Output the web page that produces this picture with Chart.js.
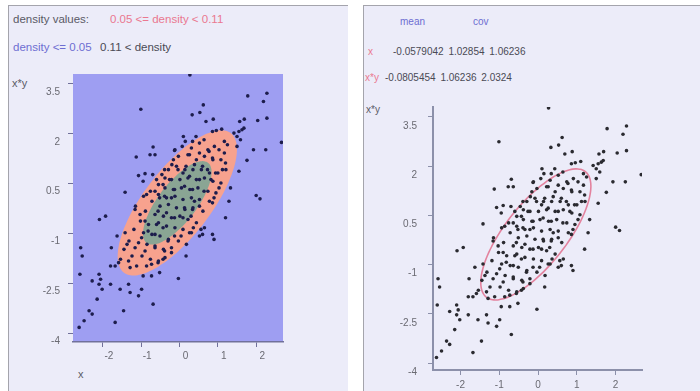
<!DOCTYPE html>
<html>
<head>
<meta charset="utf-8">
<script src="https://cdn.jsdelivr.net/npm/chart.js@4/dist/chart.umd.min.js"></script>
<style>
  body { margin: 0; width: 700px; height: 391px; overflow: hidden; background: #fff; position: relative;
         font-family: "Liberation Sans", Arial, sans-serif; }
  .panel { position: absolute; top: 5px; bottom: 0; background: #ececf9;
           border-top: 1px solid #a4a4ac; border-left: 1px solid #a4a4ac; }
  .txt { position: absolute; white-space: nowrap; line-height: 1; }
  canvas { position: absolute; }
</style>
</head>
<body>
<div class="panel" style="left:8px; width:339px;"></div>
<div class="panel" style="left:363px; width:337px;"></div>

<div class="txt" style="left:13px; top:14px; font-size:11.5px; color:#5a5a66;">density values:</div>
<div class="txt" id="midBand" style="left:110px; top:14px; font-size:11.5px; color:#ea7890;"></div>
<div class="txt" id="lowBand" style="left:13px; top:42px; font-size:11.5px; color:#6e6ed2;"></div>
<div class="txt" id="highBand" style="left:100px; top:42px; font-size:11.5px; color:#4a4a55;"></div>
<div class="txt" style="left:12px; top:78px; font-size:11px; color:#5a5a66;">x*y</div>
<div class="txt" style="left:78px; top:369px; font-size:11px; color:#5a5a66;">x</div>

<div class="txt" style="left:400px; top:17px; font-size:10px; color:#6e6ed2;">mean</div>
<div class="txt" style="left:473px; top:17px; font-size:10px; color:#6e6ed2;">cov</div>
<div class="txt" style="left:368px; top:47px; font-size:10px; color:#ea7890;">x</div>
<div class="txt" id="rowX" style="left:393px; top:47px; font-size:10px; color:#4a4a55; word-spacing:2px;"></div>
<div class="txt" style="left:365px; top:73px; font-size:10px; color:#ea7890;">x*y</div>
<div class="txt" id="rowXY" style="left:385px; top:73px; font-size:10px; color:#4a4a55; word-spacing:2px;"></div>
<div class="txt" style="left:366px; top:105px; font-size:10px; color:#5a5a66;">x*y</div>

<canvas id="density" width="339" height="331" style="left:8px; top:60px;"></canvas>
<canvas id="fit" width="337" height="301" style="left:363px; top:90px;"></canvas>

<script>
// sample statistics shown in the header
const means = [-0.0579042, -0.0805454];
const cov = [[1.02854, 1.06236], [1.06236, 2.0324]];

// density band limits
const densityLevels = [0.05, 0.11];

// mahalanobis radius of the fitted ellipse
const fitRadius = 1.4;

const xTicks = [-2, -1, 0, 1, 2];
const yTicks = [3.5, 2, 0.5, -1, -2.5, -4];

// (x, x*y) samples
const samples = [
  [0.27,3.77],[2.28,3.92],[1.78,3.14],[2.19,2.97],[2.28,3.22],[0.62,2.87],[0.53,2.64],[0.33,2.57],
  [0.88,2.44],[0.69,2.37],[2.04,2.40],[2.28,2.47],[1.57,2.37],[1.69,2.44],[2.66,1.74],[1.93,1.52],
  [2.25,1.52],[1.76,1.20],[2.00,0.14],[2.10,0.04],[1.55,0.87],[1.33,0.37],[0.10,1.92],[0.15,1.77],
  [0.07,1.62],[0.86,2.07],[0.96,2.10],[1.10,2.14],[1.42,2.02],[1.55,2.07],[1.63,2.12],[1.68,2.17],
  [1.50,1.92],[1.59,1.82],[1.50,1.62],[0.43,1.92],[0.34,1.77],[0.64,1.82],[0.77,1.47],[0.86,1.27],
  [1.03,1.52],[0.52,1.42],[0.26,1.37],[0.17,1.02],[0.39,1.07],[0.60,1.02],[0.73,0.92],[0.94,0.82],
  [1.12,0.92],[1.20,1.12],[0.82,0.62],[0.52,0.62],[0.26,0.72],[0.09,0.82],[0.34,0.32],[0.64,0.27],
  [1.03,0.37],[0.90,0.07],[0.13,0.42],[0.39,-0.03],[1.29,-0.03],[0.86,-0.08],
  [-1.01,2.74],[-0.69,1.60],[-1.13,1.30],[-0.77,1.37],[-0.64,1.37],[-0.13,1.50],[-0.20,1.07],
  [-0.39,0.92],[-1.07,0.74],[-0.90,0.80],[-0.70,0.77],[-0.95,0.57],[-1.42,0.24],[-0.60,0.62],
  [-0.43,0.47],[-0.86,0.17],[-0.64,0.27],[-0.39,0.12],[-0.21,0.07],[-0.13,0.32],[-0.52,0.07],
  [-0.26,0.62],[-0.04,0.92],
  [-1.16,-0.28],[-1.03,-0.43],[-2.09,-0.58],[-1.93,-0.48],[-1.63,-1.08],[-1.42,-0.98],[-1.37,-1.33],
  [-1.78,-1.43],[-2.58,-1.43],[-2.54,-1.68],[-1.59,-1.88],[-1.68,-1.98],[-1.80,-1.98],[-1.33,-1.83],
  [-1.29,-2.03],[-1.12,-1.98],[-0.86,-1.98],[-0.73,-1.93],[-0.56,-1.88],[-0.43,-1.78],[-0.95,-2.28],
  [-0.73,-2.28],[-0.52,-2.18],[-2.60,-2.23],[-2.10,-2.23],[-2.06,-2.38],[-2.10,-2.53],[-2.02,-2.68],
  [-2.28,-2.43],[-1.80,-2.53],[-1.55,-2.68],[-1.33,-2.53],[-1.29,-2.78],[-1.07,-2.88],[-0.69,-3.13],
  [-2.15,-2.98],[-2.36,-3.33],[-2.28,-3.43],[-2.49,-3.63],[-2.62,-3.83],[-1.46,-3.33],[-1.68,-3.68],
  [-0.99,-2.68],[-0.82,-0.93],[-0.64,-1.03],[-0.43,-0.83],[-0.30,-1.23],[-0.13,-1.08],[-0.21,-1.43],
  [-0.99,-1.13],[-1.16,-1.43],[-0.90,-1.53],[-0.64,-1.43],[-0.39,-1.53],[-0.60,-0.73],[-0.90,-0.63],
  [-0.34,-0.38],[-0.13,-0.53],[-0.56,-0.33],
  [0.13,-0.23],[0.34,-0.28],[0.52,-0.18],[0.30,-0.48],[0.09,-0.53],[1.20,-0.53],[0.36,-0.83],
  [0.56,-0.88],[0.04,-1.08],[0.60,-1.03],[0.86,-1.03],[0.90,-1.18],[0.17,-1.68],[0.26,-0.98],
  [-0.03,-2.36],
  [-0.12,1.52],[-0.03,1.32],[0.22,1.37],[0.44,1.22],[0.65,1.32],[0.87,1.22],[1.08,1.22],[1.17,1.42],
  [1.21,0.92],[1.00,0.82],[0.78,0.82],[0.57,0.92],[0.35,0.92],[0.14,0.92],[-0.08,1.02],[-0.29,0.92],
  [-0.46,0.77],[-0.21,0.62],[0.01,0.62],[0.22,0.67],[0.44,0.62],[0.65,0.67],[0.87,0.57],[1.08,0.52],
  [-0.38,0.37],[-0.16,0.32],[0.05,0.37],[0.27,0.32],[0.48,0.37],[0.74,0.27],[0.95,0.22],[-0.55,0.17],
  [-0.34,0.07],[-0.12,0.12],[0.09,0.02],[0.31,0.07],[0.52,0.02],[0.78,-0.03],[-0.72,-0.03],
  [-0.51,-0.18],[-0.29,-0.13],[-0.08,-0.23],[0.14,-0.28],[0.35,-0.23],[0.61,-0.33],[-0.89,-0.33],
  [-0.64,-0.43],[-0.42,-0.48],[-0.21,-0.53],[0.01,-0.48],[0.22,-0.58],[0.44,-0.68],[0.65,-0.83],
  [-1.02,-0.63],[-0.81,-0.73],[-0.55,-0.68],[-0.34,-0.78],[-0.12,-0.83],[0.09,-0.88],[0.31,-0.98],
  [0.52,-1.08],[-1.19,-0.88],[-0.94,-0.98],[-0.72,-1.03],[-0.51,-1.08],[-0.29,-1.18],[-0.03,-1.23],
  [0.18,-1.33],[-1.07,-1.28],[-0.85,-1.33],[-0.64,-1.38],[-0.42,-1.48],[-0.21,-1.58],[-1.32,-1.23],
  [-1.45,-1.48],[-1.24,-1.68],[-0.98,-1.68],[-0.76,-1.78],[-0.55,-1.83],[-0.38,-1.73],[-1.54,-1.78],
  [-1.15,-0.18],[-0.94,0.12],[-0.76,0.27],[-0.55,0.47],[-0.38,0.67],[-0.16,1.22],[0.31,1.57],
  [0.52,1.72],[0.74,1.52],[0.91,1.62],[1.17,1.77],[1.25,1.67]
];

// header text
document.getElementById("midBand").textContent = densityLevels[0] + " <= density < " + densityLevels[1];
document.getElementById("lowBand").textContent = "density <= " + densityLevels[0];
document.getElementById("highBand").textContent = densityLevels[1] + " < density";
document.getElementById("rowX").textContent = [means[0], cov[0][0], cov[0][1]].join(" ");
document.getElementById("rowXY").textContent = [means[1], cov[1][0], cov[1][1]].join(" ");

// contour of the normal density at a given mahalanobis radius
function ellipse(r) {
  const a = Math.sqrt(cov[0][0]);
  const b = cov[0][1] / a;
  const c = Math.sqrt(cov[1][1] - b * b);
  const pts = [];
  for (let i = 0; i <= 90; i++) {
    const t = (i / 90) * 2 * Math.PI;
    pts.push({ x: means[0] + r * a * Math.cos(t), y: means[1] + r * (b * Math.cos(t) + c * Math.sin(t)) });
  }
  return pts;
}

function radiusForDensity(level) {
  const det = cov[0][0] * cov[1][1] - cov[0][1] * cov[1][0];
  return Math.sqrt(-2 * Math.log(level * 2 * Math.PI * Math.sqrt(det)));
}

const points = samples.map(([x, y]) => ({ x, y }));
const font = { family: '"Liberation Sans", Arial, sans-serif', size: 10 };

const plotBackground = {
  id: "plotBackground",
  beforeDraw(chart, args, opts) {
    if (!opts.color) return;
    const { ctx, chartArea: { left, top, width, height } } = chart;
    ctx.save();
    ctx.fillStyle = opts.color;
    ctx.fillRect(left, top, width, height);
    ctx.restore();
  },
};

function scales(o) {
  return {
    x: {
      type: "linear",
      min: o.xMin,
      max: o.xMax,
      afterBuildTicks: (s) => { s.ticks = xTicks.map((v) => ({ value: v })); },
      afterFit: (s) => { s.height = o.xHeight; },
      grid: { drawOnChartArea: false, tickLength: 5, color: o.axisColor },
      border: { display: true, color: o.axisColor, width: o.axisWidth },
      ticks: { color: "#6a6a72", font, padding: o.xPad, labelOffset: o.xOffset, maxRotation: 0, autoSkip: false,
               callback: (v) => String(v) },
    },
    y: {
      type: "linear",
      min: o.yMin,
      max: o.yMax,
      afterBuildTicks: (s) => { s.ticks = yTicks.map((v) => ({ value: v })); },
      afterFit: (s) => { s.width = o.yWidth; },
      grid: { drawOnChartArea: false, tickLength: 5, color: o.axisColor },
      border: { display: o.yBorder, color: o.axisColor, width: o.axisWidth },
      ticks: { color: "#6a6a72", font, padding: o.yPad, labelOffset: o.yOffset, autoSkip: false,
               callback: (v) => String(v) },
    },
  };
}

const common = {
  responsive: false,
  animation: false,
  events: [],
  plugins: { legend: { display: false }, tooltip: { enabled: false } },
};

new Chart(document.getElementById("density"), {
  type: "scatter",
  plugins: [plotBackground],
  data: {
    datasets: [
      { data: points, order: 0, pointRadius: 1.8, pointBorderWidth: 0, backgroundColor: "#1d1d4c" },
      { type: "line", data: ellipse(radiusForDensity(densityLevels[1])), order: 1, fill: "shape",
        backgroundColor: "#8aa594", borderWidth: 0, pointRadius: 0, tension: 0.3 },
      { type: "line", data: ellipse(radiusForDensity(densityLevels[0])), order: 2, fill: "shape",
        backgroundColor: "#f7a28e", borderWidth: 0, pointRadius: 0, tension: 0.3 },
    ],
  },
  options: {
    ...common,
    layout: { padding: { top: 12, right: 64, left: 0, bottom: 0 } },
    plugins: { ...common.plugins, plotBackground: { color: "#9e9ef2" } },
    scales: scales({ xMin: -2.78, xMax: 2.7, yMin: -4.27, yMax: 3.8, xHeight: 49, yWidth: 65,
                     axisColor: "#70709a", axisWidth: 1.5, yBorder: false, xPad: 3, xOffset: 6, yPad: 8, yOffset: 8 }),
  },
});

new Chart(document.getElementById("fit"), {
  type: "scatter",
  data: {
    datasets: [
      { data: points, order: 0, pointRadius: 1.8, pointBorderWidth: 0, backgroundColor: "#2a2a30" },
      { type: "line", data: ellipse(fitRadius), order: 1, fill: false, borderColor: "rgba(226,112,142,0.85)",
        borderWidth: 1.6, pointRadius: 0, tension: 0.3 },
    ],
  },
  options: {
    ...common,
    layout: { padding: { top: 13, right: 58, left: 0, bottom: 0 } },
    scales: scales({ xMin: -2.71, xMax: 2.68, yMin: -4.21, yMax: 3.8, xHeight: 21, yWidth: 70,
                     axisColor: "#8c90aa", axisWidth: 2, yBorder: true, xPad: 4, xOffset: 0, yPad: 11, yOffset: 9 }),
  },
});
</script>
</body>
</html>
